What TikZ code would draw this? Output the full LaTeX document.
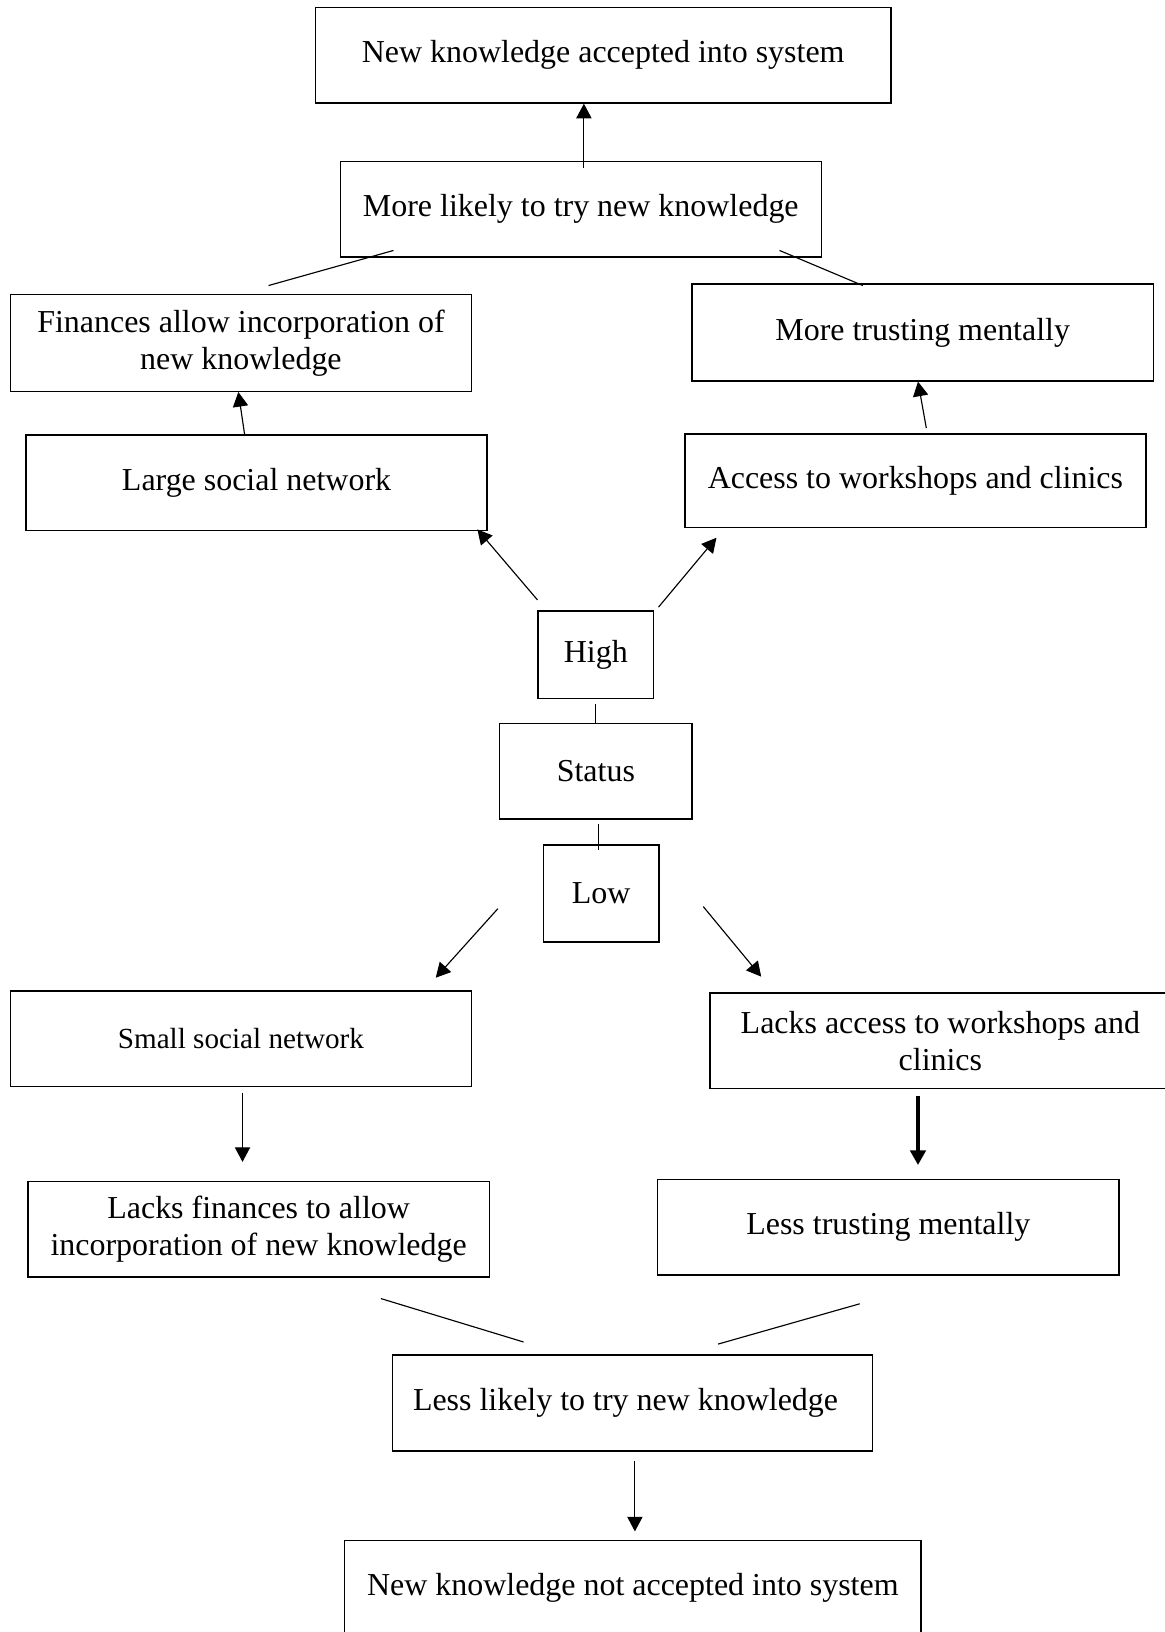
\documentclass[tikz,border=0pt]{standalone}
\usepackage{fontspec}
\setmainfont{Liberation Serif}
\usetikzlibrary{arrows.meta,calc}
\begin{document}
\begin{tikzpicture}[x=0.5pt,y=-0.5pt,
  box/.style={draw,line width=0.65pt,inner sep=0pt,align=center,font=\fontsize{15.35}{18}\selectfont},
  sz/.style 2 args={minimum width=#1*0.5pt,minimum height=#2*0.5pt},
  conn/.style={line width=0.55pt},
  arr/.style={conn,-{Triangle[length=7pt,width=7.3pt]}},
]
\useasboundingbox[fill=white] (0,0) rectangle (1119,1568);
\node[box,sz={553}{92}] (top) at (579.5,53) {New knowledge accepted into system};
\node[box,sz={462}{92}] (more) at (558,201) {More likely to try new knowledge};
\node[box,sz={443}{93}] (fin) at (231.5,329.5) {Finances allow incorporation of\\new knowledge};
\node[box,sz={443}{93}] (trust) at (886.5,319.5) {More trusting mentally};
\node[box,sz={443}{92}] (large) at (246.5,464) {Large social network};
\node[box,sz={443}{90}] (access) at (879.5,462) {Access to workshops and clinics};
\node[box,sz={111}{84}] (high) at (572.5,629) {High};
\node[box,sz={185}{92}] (status) at (572.5,741) {Status};
\node[box,sz={111}{93}] (low) at (577.5,858.5) {Low};
\node[box,sz={443}{92},font=\fontsize{14}{17}\selectfont] (small) at (231.5,998) {Small social network};
\node[box,sz={443}{92}] (lacksacc) at (903.5,1000) {Lacks access to workshops and\\clinics};
\node[box,sz={443}{92}] (lacksfin) at (248.5,1181) {Lacks finances to allow\\incorporation of new knowledge};
\node[box,sz={443}{92}] (less) at (853.5,1179) {Less trusting mentally};
\node[box,sz={461}{92}] (lesslikely) at (607.5,1348) {Less likely to try new knowledge\hspace*{6.5pt}};
\node[box,sz={554}{92}] (notacc) at (608,1526) {New knowledge not accepted into system};

\draw[arr] ($(more.north)+(3,7)$) -- ($(top.south)+(-18.5,0)$);
\draw[conn] ($(more.south)+(-180,-7)$) -- ($(fin.north)+(26.5,-8)$);
\draw[conn] ($(more.south)+(191,-7)$) -- ($(trust.north)+(-57.5,2)$);
\draw[arr] ($(large.north)+(-11.5,0)$) -- ($(fin.south)+(-2.5,0)$);
\draw[arr] ($(access.north)+(10.5,-5)$) -- ($(trust.south)+(-4.5,0)$);
\draw[arr] ($(high.north west)+(0,-10)$) -- ($(large.south east)+(-10,-2)$);
\draw[arr] ($(high.north east)+(4,-3)$) -- ($(access.south west)+(31,9)$);
\draw[conn] ($(high.south)+(0,5)$) -- (status.north);
\draw[conn] ($(status.south)+(2.5,4)$) -- ($(low.north)+(-2.5,5)$);
\draw[arr] ($(low.west)+(-43,14.5)$) -- ($(small.north east)+(-35,-12)$);
\draw[arr] ($(low.east)+(42,12.5)$) -- ($(lacksacc.north west)+(50,-15)$);
\draw[arr] ($(small.south)+(1.5,5)$) -- ($(lacksfin.north)+(-15.5,-18)$);
\draw[arr,line width=1.8pt] ($(lacksacc.south)+(-21.5,6)$) -- ($(less.north)+(28.5,-13)$);
\draw[conn] ($(lacksfin.south)+(117.5,20)$) -- ($(lesslikely.north)+(-104.5,-12)$);
\draw[conn] ($(less.south)+(-27.5,27)$) -- ($(lesslikely.north)+(82.5,-10)$);
\draw[arr] ($(lesslikely.south)+(2.5,9)$) -- ($(notacc.north)+(2,-8)$);
\end{tikzpicture}
\end{document}
